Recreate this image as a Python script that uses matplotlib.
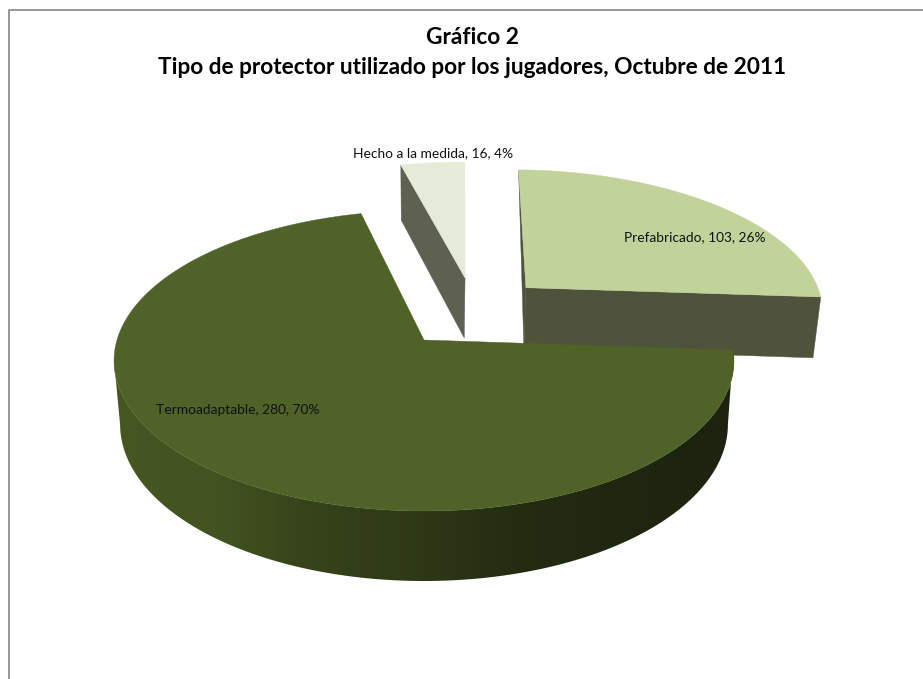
import numpy as np
import matplotlib
matplotlib.use('Agg')
import matplotlib.pyplot as plt
from matplotlib.patches import Polygon

#Pie data
categorias=['Prefabricado','Termoadaptable','Hecho a la medida']
jugadores=[103,280,16]
titulo_1='Gráfico 2'
titulo_2='Tipo de protector utilizado por los jugadores, Octubre de 2011'

#Slice styles, same order as the categories
color_top=['#c1d39a','#4f6228','#e4ebd9']
color_wall=['#50533c','#2f3a15','#5e6051']
explode=[(0.349,0.373),(0.0,0.0),(0.142,0.447)]
label_pos=[(624,237),(156,410),(353,153)]

#Perspective of the disc, in pixels
cx,cy_top,cy_bot=424,340,402.7
R_top,R_bot=307,301
B_top,B_bot=147.4,153.7
k=0.138

#Side wall shading runs dark towards the right
wall_x=[113,220,307,420,515,600,680,735]
wall_r=[0x46,0x42,0x37,0x2e,0x24,0x20,0x1d,0x1c]
wall_g=[0x57,0x52,0x43,0x38,0x2c,0x28,0x25,0x24]
wall_b=[0x22,0x20,0x1a,0x16,0x12,0x10,0x10,0x0f]

def project(X,Y,bottom=False):
    w=1+k*Y
    if bottom:
        return cx+R_bot*X/w,cy_bot-B_bot*Y/w
    return cx+R_top*X/w,cy_top-B_top*Y/w

def rim(ang,off,bottom=False):
    t=np.radians(ang)
    return project(off[0]+np.sin(t),off[1]+np.cos(t),bottom)

#Angles of each slice, clockwise from the top
total=sum(jugadores)
start=1.0
angles=[]
for v in jugadores:
    end=start+360*v/total
    angles.append((start,end))
    start=end

fig=plt.figure(figsize=(9.23,6.79),dpi=100)
ax=fig.add_axes([0,0,1,1])
ax.set_xlim(0,923)
ax.set_ylim(679,0)
ax.axis('off')

#Chart frame
ax.plot([9,9,923],[679,10,10],color='#868686',lw=1.2)

def top_face(i):
    a0,a1=angles[i]
    off=explode[i]
    ang=np.linspace(a0,a1,200)
    xs,ys=rim(ang,off)
    ax0,ay0=project(off[0],off[1])
    ax.fill(np.r_[ax0,xs],np.r_[ay0,ys],color=color_top[i],lw=0.3)

#Hecho a la medida, furthest back
a0,a1=angles[2]
off=explode[2]
xa,ya=project(*off)
xb,yb=project(*off,bottom=True)
xt,yt=rim(a0,off)
xu,yu=rim(a0,off,bottom=True)
ax.fill([xa,xt,xu,xb],[ya,yt,yu,yb],color=color_wall[2],lw=0.3)
top_face(2)

#Prefabricado with its two cut faces
a0,a1=angles[0]
off=explode[0]
xa,ya=project(*off)
xb,yb=project(*off,bottom=True)
xt,yt=rim(a1,off)
xu,yu=rim(a1,off,bottom=True)
ax.fill([xa,xt,xu,xb],[ya,yt,yu,yb],color=color_wall[0],lw=0.3)
xt,yt=rim(a0,off)
ax.fill([xa,xt,xb],[ya,yt,yb],color=color_wall[0],lw=0.3)
top_face(0)

#Termoadaptable, front rim wall as a horizontal gradient clipped to the rim outline.
#The outline stops at the tangent points so the sides of the wall run straight down.
a0,a1=angles[1]
off=explode[1]
xt,yt=rim(np.linspace(a0,262,300),off)
xu,yu=rim(np.linspace(98,262,300),off,bottom=True)
outline=Polygon(np.c_[np.r_[xt,xu[::-1]],np.r_[yt,yu[::-1]]],closed=True,transform=ax.transData,fc='none',ec='none')
ax.add_patch(outline)
gx=np.linspace(wall_x[0],wall_x[-1],312)
grad=np.stack([np.interp(gx,wall_x,wall_r),np.interp(gx,wall_x,wall_g),np.interp(gx,wall_x,wall_b)],axis=-1)[None,:,:]/255
im=ax.imshow(grad,extent=(wall_x[0],wall_x[-1],600,300),aspect='auto',interpolation='bilinear',zorder=1.5)
im.set_clip_path(outline)
ax.set_xlim(0,923)
ax.set_ylim(679,0)
top_face(1)
ax.patches[-1].set_zorder(1.6)

#Data labels
for i in range(3):
    pct=round(100*jugadores[i]/total)
    ax.text(label_pos[i][0],label_pos[i][1],f'{categorias[i]}, {jugadores[i]}, {pct}%',
            family='Lato',fontsize=9.9,color='#111111',ha='left',va='center')

ax.text(472,37,titulo_1,family='Lato',weight='bold',fontsize=16.3,color='black',ha='center',va='center')
ax.text(472,68,titulo_2,family='Lato',weight='bold',fontsize=16.3,color='black',ha='center',va='center')

fig.savefig('out.png',dpi=100)
